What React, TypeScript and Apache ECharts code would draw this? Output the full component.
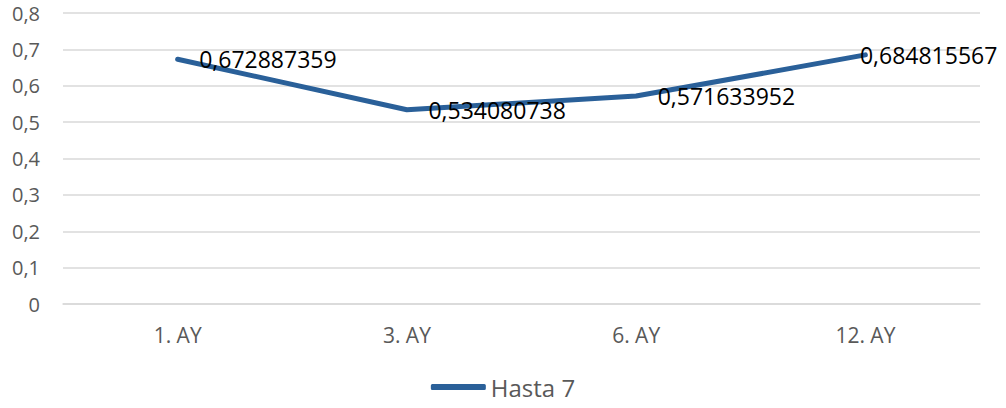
import React, { useEffect, useRef } from "react";
import * as echarts from "echarts";

const categories = ["1. AY", "3. AY", "6. AY", "12. AY"];
const values = [0.672887359, 0.534080738, 0.571633952, 0.684815567];
const valueLabels = ["0,672887359", "0,534080738", "0,571633952", "0,684815567"];
const seriesName = "Hasta 7";

const LINE = "#2a6099";
const FONT = "Open Sans";

export default function App() {
  const ref = useRef<HTMLDivElement>(null);
  useEffect(() => {
    if (!ref.current) return;
    const chart = echarts.init(ref.current, null, { renderer: "svg" });
    chart.setOption({
      animation: false,
      backgroundColor: "#ffffff",
      grid: { left: 63, right: 26, top: 13, bottom: 104, containLabel: false },
      legend: {
        data: [seriesName],
        bottom: 4,
        left: "center",
        icon: "roundRect",
        itemWidth: 55,
        itemHeight: 6,
        itemStyle: { color: LINE, opacity: 1, borderWidth: 0 },
        textStyle: { color: "#595959", fontSize: 24, fontFamily: FONT },
      },
      xAxis: {
        type: "category",
        data: categories,
        boundaryGap: true,
        axisLine: { lineStyle: { color: "#d9d9d9", width: 1.5 } },
        axisTick: { show: false },
        axisLabel: { color: "#595959", fontSize: 21, fontFamily: FONT, margin: 20 },
      },
      yAxis: {
        type: "value",
        min: 0,
        max: 0.8,
        interval: 0.1,
        axisLine: { show: false },
        axisTick: { show: false },
        splitLine: { lineStyle: { color: "#d9d9d9", width: 1.5 } },
        axisLabel: {
          color: "#595959",
          fontSize: 20,
          fontFamily: FONT,
          margin: 23,
          formatter: (v: number) => String(Math.round(v * 10) / 10).replace(".", ","),
        },
      },
      series: [
        {
          name: seriesName,
          type: "line",
          data: values.map((v, i) =>
            i === values.length - 1 ? { value: v, label: { offset: [-27, 0] } } : v
          ),
          symbol: "circle",
          symbolSize: 1,
          showSymbol: true,
          color: LINE,
          itemStyle: { color: "rgba(0,0,0,0)", borderWidth: 0 },
          lineStyle: { color: LINE, width: 5, cap: "round", join: "round" },
          label: {
            show: true,
            position: "right",
            distance: 21,
            color: "#000000",
            fontSize: 23,
            fontFamily: FONT,
            formatter: (p: any) => valueLabels[p.dataIndex],
          },
        },
      ],
    });
    return () => chart.dispose();
  }, []);
  return (
    <div
      ref={ref}
      style={{ position: "fixed", left: 0, top: 0, width: 1006, height: 408, background: "#fff" }}
    />
  );
}
